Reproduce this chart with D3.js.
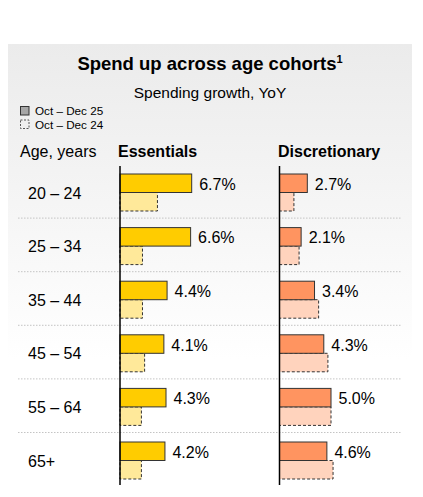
<!DOCTYPE html>
<html>
<head>
<meta charset="utf-8">
<script src="https://d3js.org/d3.v7.min.js"></script>
<style>
  html, body { margin: 0; padding: 0; background: #fff; }
  svg { display: block; font-family: "Liberation Sans", Arial, sans-serif; }
</style>
</head>
<body>
<div id="chart"></div>
<script>
// data
const ages = ["20 – 24", "25 – 34", "35 – 44", "45 – 54", "55 – 64", "65+"];
const essentials25 = [6.7, 6.6, 4.4, 4.1, 4.3, 4.2];
const essentials24 = [3.5, 2.1, 2.1, 2.3, 2.0, 2.0];
const discretionary25 = [2.7, 2.1, 3.4, 4.3, 5.0, 4.6];
const discretionary24 = [1.4, 1.9, 3.8, 4.7, 5.0, 5.2];
const legendLabels = ["Oct – Dec 25", "Oct – Dec 24"];

const width = 423, height = 497;

const svg = d3.select("#chart")
    .append("svg")
    .attr("width", width)
    .attr("height", height);

// panel background, grey fading to white
const grad = svg.append("defs").append("linearGradient")
    .attr("id", "bg")
    .attr("gradientUnits", "userSpaceOnUse")
    .attr("x1", 0).attr("y1", 44).attr("x2", 0).attr("y2", 360);
grad.append("stop").attr("offset", 0).attr("stop-color", "#ebebeb");
grad.append("stop").attr("offset", 1).attr("stop-color", "#ffffff");

svg.append("rect")
    .attr("x", 8).attr("y", 44)
    .attr("width", 404).attr("height", height - 44)
    .attr("fill", "url(#bg)");

// titles
svg.append("text")
    .attr("x", 210).attr("y", 70)
    .attr("text-anchor", "middle")
    .attr("font-size", 18.5).attr("font-weight", "bold")
    .attr("fill", "#000")
    .text("Spend up across age cohorts")
    .append("tspan")
    .attr("font-size", 11).attr("dy", -7)
    .text("1");

svg.append("text")
    .attr("x", 210).attr("y", 98)
    .attr("text-anchor", "middle")
    .attr("font-size", 15.5)
    .attr("fill", "#000")
    .text("Spending growth, YoY");

// legend
const legend = svg.append("g");
legendLabels.forEach((lab, i) => {
    const y = 106.5 + i * 13.5;
    legend.append("rect")
        .attr("x", 20.5).attr("y", y)
        .attr("width", 8.5).attr("height", 8.5)
        .attr("fill", i === 0 ? "#a6a6a6" : "#efefef")
        .attr("stroke", i === 0 ? "#333" : "#555")
        .attr("stroke-width", 1)
        .attr("stroke-dasharray", i === 0 ? null : "2,1.5");
    legend.append("text")
        .attr("x", 35).attr("y", y + 8.5)
        .attr("font-size", 11.7)
        .attr("fill", "#000")
        .text(lab);
});

// column headers
svg.append("text").attr("x", 20).attr("y", 157)
    .attr("font-size", 16).attr("fill", "#000").text("Age, years");
svg.append("text").attr("x", 118).attr("y", 157)
    .attr("font-size", 16).attr("font-weight", "bold").attr("fill", "#000").text("Essentials");
svg.append("text").attr("x", 278).attr("y", 157)
    .attr("font-size", 16).attr("font-weight", "bold").attr("fill", "#000").text("Discretionary");

// scales
const y = d3.scaleBand().domain(ages).range([164, 485.6]).paddingInner(0);
const ySub = d3.scaleBand().domain(["cur", "prev"]).range([10, 47]);
const xEss = d3.scaleLinear().domain([0, 7]).range([120, 120 + 74.9]);
const xDisc = d3.scaleLinear().domain([0, 6]).range([279.5, 279.5 + 61.8]);

// row separators
svg.append("g").selectAll("line")
    .data(ages.slice(1))
    .join("line")
    .attr("x1", 18).attr("x2", 402)
    .attr("y1", d => y(d) + 0.5).attr("y2", d => y(d) + 0.5)
    .attr("stroke", "#c4c4c4")
    .attr("stroke-width", 1)
    .attr("stroke-dasharray", "1.5,1.5");

// age labels
svg.append("g").selectAll("text")
    .data(ages)
    .join("text")
    .attr("x", 28)
    .attr("y", d => y(d) + ySub("prev") + 0.5)
    .attr("dominant-baseline", "central")
    .attr("font-size", 16)
    .attr("fill", "#000")
    .text(d => d);

function drawPanel(x, cur, prev, curColor, prevColor) {
    const g = svg.append("g");

    g.selectAll(".prev")
        .data(prev)
        .join("rect")
        .attr("class", "prev")
        .attr("x", x(0))
        .attr("y", (d, i) => y(ages[i]) + ySub("prev"))
        .attr("width", d => x(d) - x(0))
        .attr("height", ySub.bandwidth())
        .attr("fill", prevColor)
        .attr("stroke", "#333")
        .attr("stroke-width", 1)
        .attr("stroke-dasharray", "3,2");

    g.selectAll(".cur")
        .data(cur)
        .join("rect")
        .attr("class", "cur")
        .attr("x", x(0))
        .attr("y", (d, i) => y(ages[i]) + ySub("cur"))
        .attr("width", d => x(d) - x(0))
        .attr("height", ySub.bandwidth())
        .attr("fill", curColor)
        .attr("stroke", "#333")
        .attr("stroke-width", 1);

    g.selectAll(".val")
        .data(cur)
        .join("text")
        .attr("class", "val")
        .attr("x", d => x(d) + 7.5)
        .attr("y", (d, i) => y(ages[i]) + ySub("cur") + ySub.bandwidth() / 2 + 1)
        .attr("dominant-baseline", "central")
        .attr("font-size", 16)
        .attr("fill", "#000")
        .text(d => d.toFixed(1) + "%");

    // axis line
    g.append("line")
        .attr("x1", x(0)).attr("x2", x(0))
        .attr("y1", 166).attr("y2", 485)
        .attr("stroke", "#000")
        .attr("stroke-width", 1.5);
}

drawPanel(xEss, essentials25, essentials24, "#ffcc00", "#ffe99a");
drawPanel(xDisc, discretionary25, discretionary24, "#ff9460", "#ffd3bd");
</script>
</body>
</html>
